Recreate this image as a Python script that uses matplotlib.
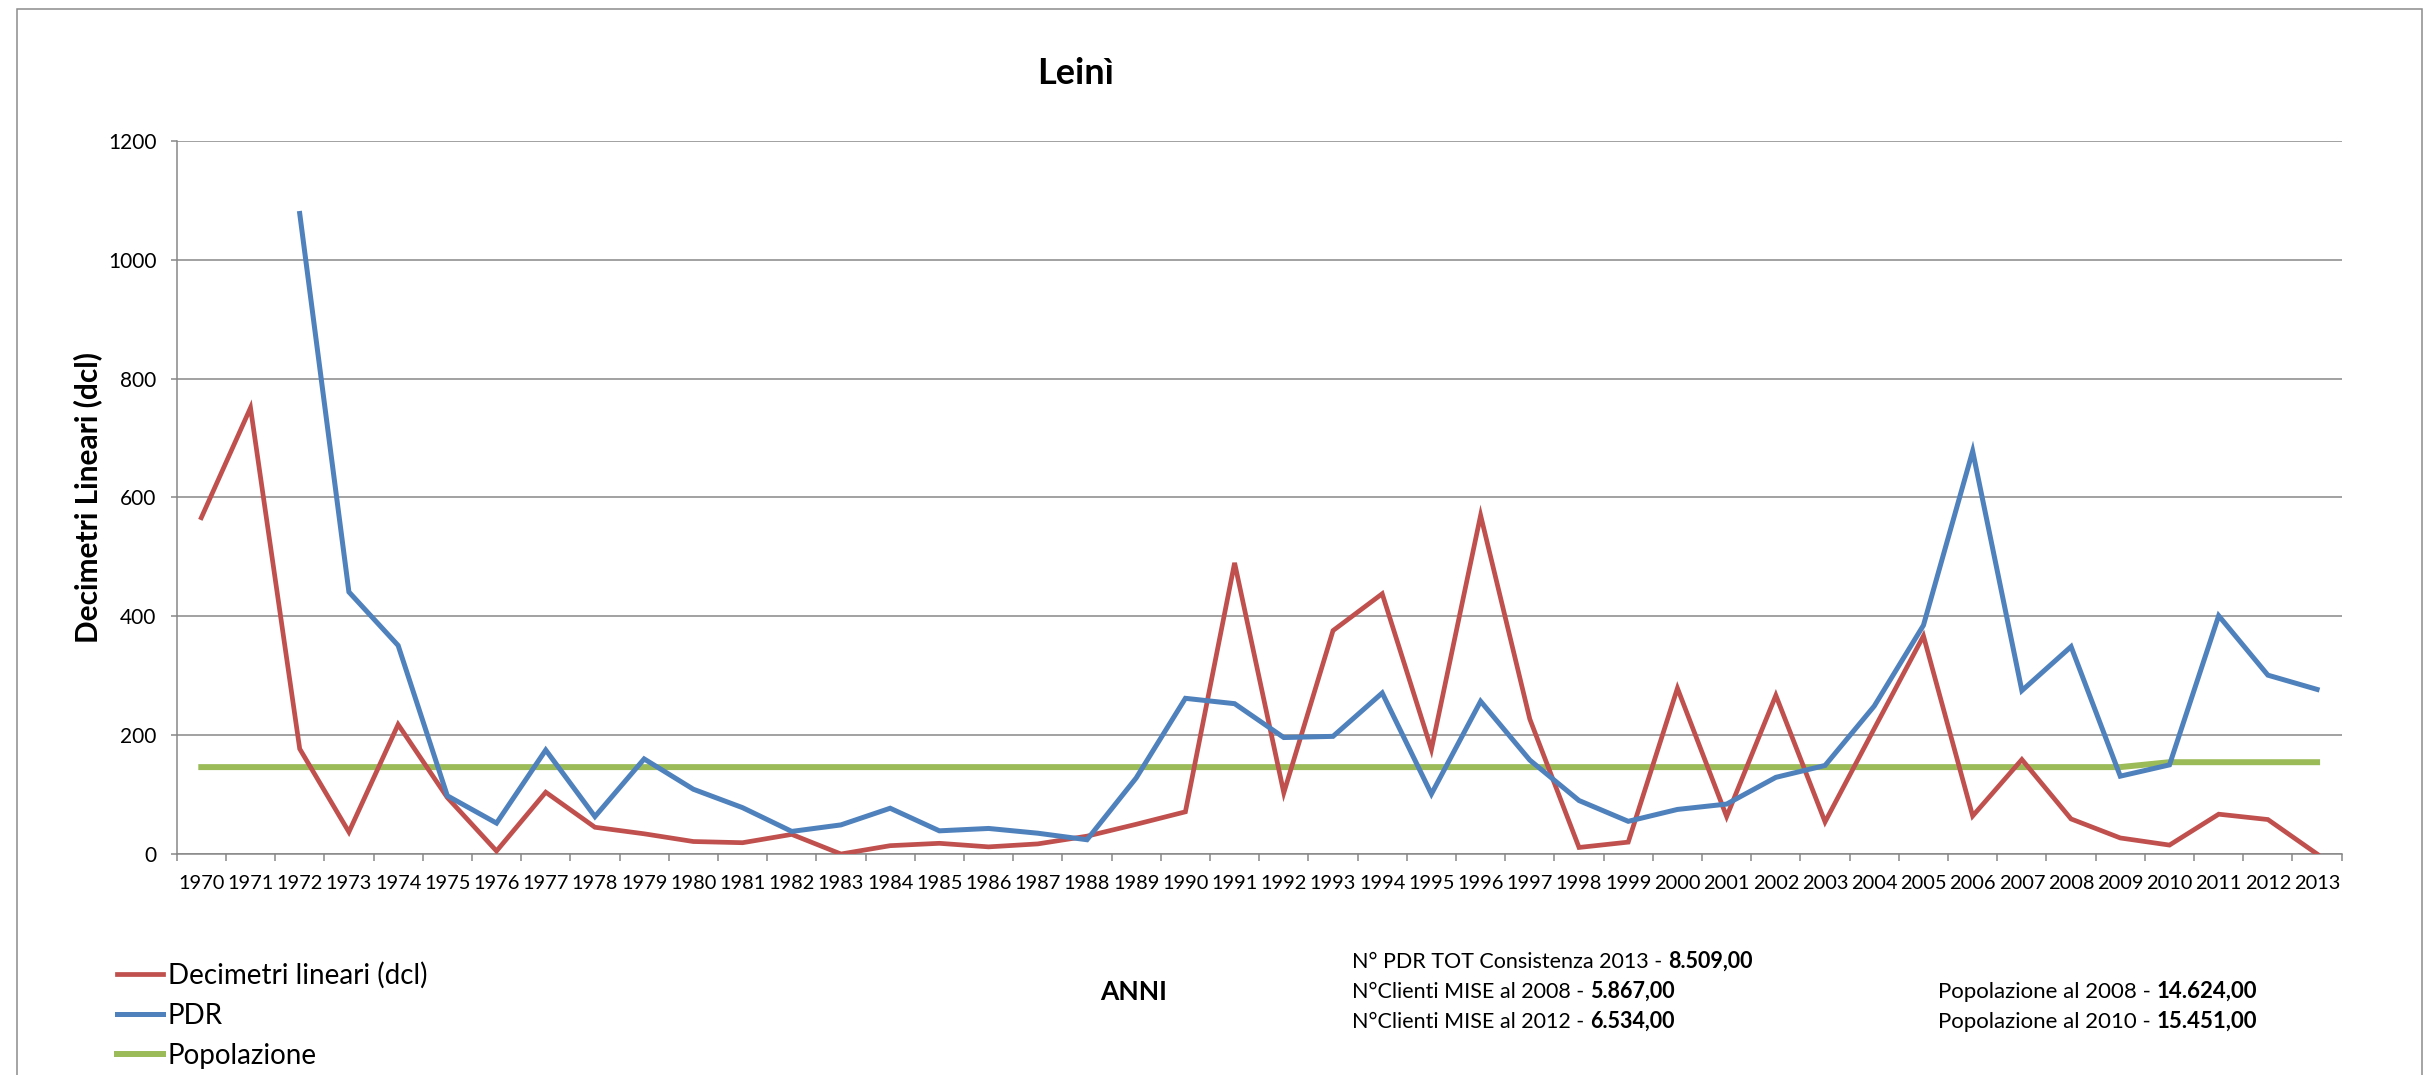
import numpy as np
import matplotlib
matplotlib.use("Agg")
import matplotlib.pyplot as plt
from matplotlib.patches import Rectangle

years = list(range(1970, 2014))
decimetri = [566, 751, 177, 37, 218, 95, 5, 104, 45, 34, 21, 19, 33, 0, 14,
             18, 12, 17, 30, 50, 71, 490, 103, 376, 438, 176, 570, 227, 11, 20,
             279, 63, 267, 54, 211, 367, 64, 159, 59, 27, 15, 67, 58, 0]
pdr = [np.nan, np.nan, 1078, 441, 351, 98, 52, 175, 63, 160, 109, 78, 38, 49, 77,
       39, 43, 35, 24, 128, 262, 253, 196, 198, 271, 101, 257, 158, 90, 55,
       75, 84, 129, 149, 249, 385, 678, 275, 349, 131, 150, 401, 301, 277]
popolazione = [146.24] * 40 + [154.51] * 4

series_labels = ["Decimetri lineari (dcl)", "PDR", "Popolazione"]
title = "Leinì"
ylabel = "Decimetri Lineari (dcl)"
xlabel = "ANNI"
info_left = [("N° PDR TOT Consistenza 2013 - ", "8.509,00"),
             ("N°Clienti MISE al 2008 - ", "5.867,00"),
             ("N°Clienti MISE al 2012 - ", "6.534,00")]
info_right = [("Popolazione al 2008 - ", "14.624,00"),
              ("Popolazione al 2010 - ", "15.451,00")]
yticks = [0, 200, 400, 600, 800, 1000, 1200]

FONT = ["Lato", "DejaVu Sans"]
plt.rcParams["font.family"] = FONT

W, H = 2431, 1075
fig = plt.figure(figsize=(W / 100, H / 100), dpi=100)
fig.patch.set_facecolor("white")

def fx(px):
    return px / W

def fy(py):
    return 1 - py / H

ax = fig.add_axes([fx(176.7), fy(854), fx(2341.7) - fx(176.7), fy(141) - fy(854)])

x = np.arange(len(years))
red = "#C0504D"
blue = "#4F81BD"
green = "#9BBB59"
l1, = ax.plot(x, decimetri, color=red, lw=3.4, solid_joinstyle="miter", label=series_labels[0], zorder=3)
l2, = ax.plot(x, pdr, color=blue, lw=3.6, solid_joinstyle="miter", label=series_labels[1], zorder=4)
l3, = ax.plot(x, popolazione, color=green, lw=4.3, label=series_labels[2], zorder=2)

ax.set_xlim(-0.5, len(years) - 0.5)
ax.set_ylim(0, 1200)
gridc = "#878787"
ax.set_yticks(yticks)
ax.set_yticklabels([str(v) for v in yticks])
ax.yaxis.grid(True, color=gridc, lw=1.1)
ax.set_axisbelow(True)
ax.set_xticks(np.arange(-0.5, len(years), 1.0))
ax.set_xticklabels([])
ax.set_xticks(x, minor=True)
ax.set_xticklabels([str(y) for y in years], minor=True)
ax.tick_params(axis="x", which="major", direction="out", length=5, width=1.1, color=gridc)
ax.tick_params(axis="x", which="minor", length=0, pad=15, labelsize=14.4)
ax.tick_params(axis="y", direction="out", length=4.5, width=1.1, color=gridc, pad=10, labelsize=15)
for s in ["top", "right"]:
    ax.spines[s].set_visible(False)
for s in ["left", "bottom"]:
    ax.spines[s].set_color(gridc)
    ax.spines[s].set_linewidth(1.1)

# outer border
fig.patches.append(Rectangle((fx(17), fy(1100)), fx(2422) - fx(17), fy(9) - fy(1100),
                             transform=fig.transFigure, fill=False, edgecolor="#8c8c8c",
                             lw=1.1, clip_on=False))

fig.text(fx(1076), fy(73), title, ha="center", va="center", fontsize=26, fontweight="bold")
fig.text(fx(88), (fy(141) + fy(854)) / 2, ylabel, rotation=90, ha="center", va="center",
         fontsize=21.5, fontweight="bold")
fig.text(fx(1134), fy(992), xlabel, ha="center", va="center", fontsize=19, fontweight="bold")

leg = fig.legend(handles=[l1, l2, l3], loc="upper left", bbox_to_anchor=(fx(117), fy(962)),
                 bbox_transform=fig.transFigure, frameon=False, fontsize=20,
                 handlelength=1.65, handletextpad=0.18, labelspacing=0.5,
                 borderpad=0, borderaxespad=0)

def info(xpx, ypx, parts, size):
    t = fig.text(fx(xpx), fy(ypx), parts[0], ha="left", va="center", fontsize=size)
    ax.annotate(parts[1], xy=(1, 0), xycoords=t, ha="left", va="bottom",
                fontsize=size, fontweight="bold", annotation_clip=False)

for i, p in enumerate(info_left):
    info(1352, 962 + 30 * i, p, 15.5)
for i, p in enumerate(info_right):
    info(1938, 992 + 30 * i, p, 16)

fig.savefig("out.png", dpi=100, facecolor="white")
